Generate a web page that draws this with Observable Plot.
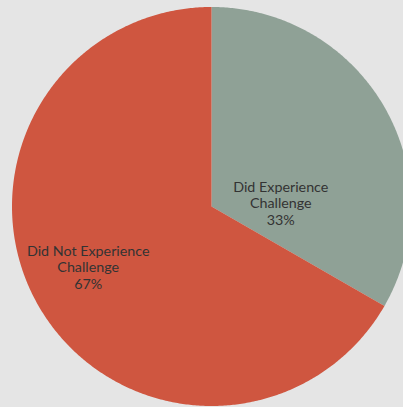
<!DOCTYPE html>
<html><head><meta charset="utf-8">
<script src="https://cdn.jsdelivr.net/npm/d3@7"></script>
<script src="https://cdn.jsdelivr.net/npm/@observablehq/plot@0.6"></script>
<style>html,body{margin:0;padding:0;background:#e5e5e5;overflow:hidden}#chart svg{display:block}</style>
</head><body><div id="chart"></div>
<script>
const categories = ["Did Experience Challenge", "Did Not Experience Challenge"];
const shares = [33.3, 66.7];
const pctLabels = ["33%", "67%"];
const labelLines = [["Did Experience", "Challenge"], ["Did Not Experience", "Challenge"]];
const colors = ["#8fa196", "#cf5640"];

const arcs = d3.pie().sort(null).value(d => d)(shares);
const slicePts = [];
arcs.forEach((a, i) => {
  slicePts.push({cat: categories[i], x: 0, y: 0});
  const n = Math.ceil((a.endAngle - a.startAngle) / (Math.PI / 360));
  for (let k = 0; k <= n; k++) {
    const t = a.startAngle + (a.endAngle - a.startAngle) * k / n;
    slicePts.push({cat: categories[i], x: Math.sin(t), y: Math.cos(t)});
  }
});
const labelR = 0.685;
const labels = arcs.map((a, i) => {
  const m = (a.startAngle + a.endAngle) / 2;
  return {cat: categories[i], x: labelR * Math.sin(m), y: labelR * Math.cos(m),
          text: labelLines[i].join("\n") + "\n" + pctLabels[i]};
});

const textStyle = {x: "x", y: "y", text: "text", fill: "#333", fontSize: 14.3,
  lineHeight: 1.16, textAnchor: "middle", lineAnchor: "middle"};

const chart = Plot.plot({
  width: 403, height: 407,
  margin: 0,
  x: {domain: [-1, 1], range: [11.5, 410.5], axis: null},
  y: {domain: [-1, 1], range: [405.5, 6.5], axis: null},
  color: {domain: categories, range: colors},
  style: {background: "#e5e5e5", fontFamily: "Lato, 'DejaVu Sans', sans-serif", overflow: "hidden"},
  marks: [
    Plot.line(slicePts, {x: "x", y: "y", z: "cat", fill: "cat", stroke: "none"}),
    Plot.text(labels.filter(d => d.cat === categories[0]), {...textStyle, dx: -49, dy: 65}),
    Plot.text(labels.filter(d => d.cat === categories[1]), {...textStyle, dx: -5, dy: -8})
  ]
});
document.getElementById("chart").append(chart);
</script>
</body></html>
